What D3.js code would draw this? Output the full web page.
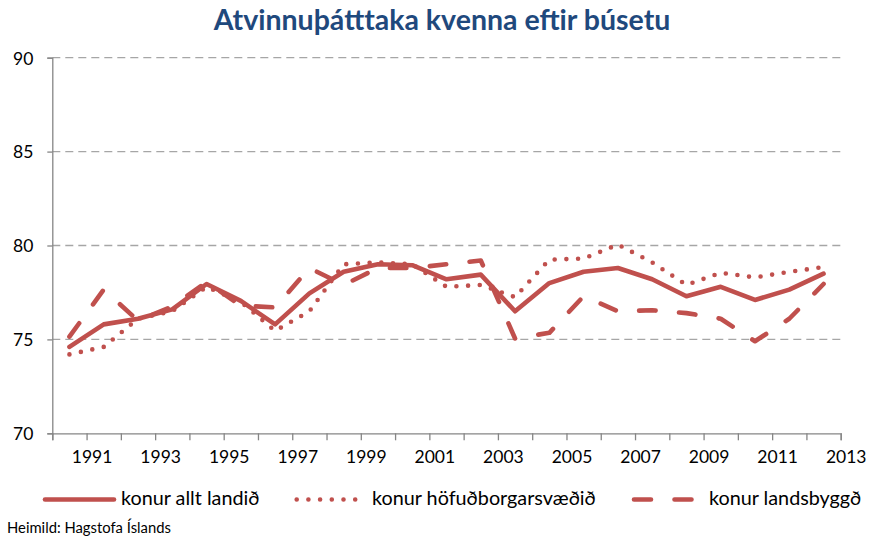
<!DOCTYPE html>
<html>
<head>
<meta charset="utf-8">
<script src="https://cdn.jsdelivr.net/npm/d3@7"></script>
<style>
  html, body { margin: 0; padding: 0; background: #fff; }
  svg { display: block; font-family: Lato, "Open Sans", sans-serif; }
</style>
</head>
<body>
<div id="chart"></div>
<script>
// values (atvinnuþátttaka kvenna, %)
var years = [1991, 1992, 1993, 1994, 1995, 1996, 1997, 1998, 1999, 2000, 2001, 2002,
             2003, 2004, 2005, 2006, 2007, 2008, 2009, 2010, 2011, 2012, 2013];
var tickLabels = [1991, 1993, 1995, 1997, 1999, 2001, 2003, 2005, 2007, 2009, 2011, 2013];
var yTicks = [70, 75, 80, 85, 90];

var alltLandid = [74.6, 75.8, 76.1, 76.6, 77.95, 77.05, 75.8, 77.45, 78.6, 79.0, 78.95, 78.2,
                  78.45, 76.5, 78.0, 78.6, 78.8, 78.2, 77.3, 77.8, 77.1, 77.65, 78.5];
var hofudborg = [74.2, 74.6, 76.1, 76.5, 77.8, 77.0, 75.45, 76.5, 79.0, 79.1, 79.0, 77.8,
                 77.9, 77.25, 79.25, 79.3, 80.05, 79.1, 77.9, 78.55, 78.3, 78.6, 78.85];
var landsbyggd = [75.15, 77.65, 76.0, 76.75, 78.05, 76.8, 76.7, 78.8, 77.9, 78.8, 78.8, 79.0,
                  79.2, 75.05, 75.35, 77.3, 76.5, 76.55, 76.4, 76.1, 74.9, 76.1, 77.95];

var seriesNames = ['konur allt landið', 'konur höfuðborgarsvæðið', 'konur landsbyggð'];
var title = 'Atvinnuþátttaka kvenna eftir búsetu';
var source = 'Heimild: Hagstofa Íslands';

(function() {
  var W = 869, H = 539,
    red = '#c0504d', axisGrey = '#868686', gridGrey = '#a6a6a6',
    left = 52.3, right = 840.7, top = 57.7, bottom = 433.3,
    svg, x, y, line, series, legend;

  svg = d3.select('#chart').append('svg').attr('width', W).attr('height', H);

  // boundaries between categories fall on whole years, points sit mid-category
  x = d3.scaleLinear().domain([1990, 2013]).range([left, right]);
  y = d3.scaleLinear().domain([70, 90]).range([bottom, top]);

  svg.append('text')
    .attr('x', 442).attr('y', 30)
    .attr('text-anchor', 'middle')
    .attr('font-size', 28.5).attr('font-weight', 'bold')
    .attr('fill', '#1f497d')
    .text(title);

  // gridlines
  svg.append('g')
    .selectAll('line')
    .data(yTicks.filter(function(d) { return d > 70; }))
    .join('line')
    .attr('x1', left).attr('x2', right)
    .attr('y1', function(d) { return y(d); })
    .attr('y2', function(d) { return y(d); })
    .attr('stroke', gridGrey).attr('stroke-width', 1.3)
    .attr('stroke-dasharray', '8,5');

  // y axis
  var yAxis = svg.append('g')
    .attr('transform', 'translate(' + left + ',0)')
    .call(d3.axisLeft(y).tickValues(yTicks).tickSize(5).tickPadding(14).tickFormat(d3.format('d')));
  yAxis.select('.domain').attr('stroke', axisGrey).attr('stroke-width', 1.3);
  yAxis.selectAll('.tick line').attr('stroke', axisGrey).attr('stroke-width', 1.3);
  yAxis.selectAll('.tick text')
    .attr('font-family', 'Lato, sans-serif').attr('font-size', 17.5).attr('fill', '#000')
    .attr('dy', '0.36em');

  // x axis: a tick at every year boundary, labels on odd years
  var xAxis = svg.append('g')
    .attr('transform', 'translate(0,' + bottom + ')')
    .call(d3.axisBottom(x).tickValues(d3.range(1990, 2014)).tickSize(7).tickPadding(10)
      .tickFormat(function(d) { return tickLabels.indexOf(d) >= 0 ? d : ''; }));
  xAxis.select('.domain').attr('stroke', axisGrey).attr('stroke-width', 1.3);
  xAxis.selectAll('.tick line').attr('stroke', axisGrey).attr('stroke-width', 1.3);
  xAxis.selectAll('.tick text')
    .attr('font-family', 'Lato, sans-serif').attr('font-size', 17.5).attr('fill', '#000')
    .attr('dx', 5);

  line = d3.line()
    .x(function(d, i) { return x(years[i] - 0.5); })
    .y(function(d) { return y(d); });

  series = [
    { name: seriesNames[0], values: alltLandid, dash: null, legendDash: null },
    { name: seriesNames[1], values: hofudborg, dash: '0,11.7', legendDash: '0,11.7' },
    { name: seriesNames[2], values: landsbyggd, dash: '16.5,23.5', legendDash: '17,23.5' }
  ];

  svg.append('g')
    .selectAll('path')
    .data(series)
    .join('path')
    .attr('d', function(d) { return line(d.values); })
    .attr('fill', 'none')
    .attr('stroke', red)
    .attr('stroke-width', 4.6)
    .attr('stroke-linejoin', 'round')
    .attr('stroke-linecap', 'round')
    .attr('stroke-dasharray', function(d) { return d.dash; });

  // legend
  var legendPos = [
    { x1: 45, x2: 114, tx: 121 },
    { x1: 296.7, x2: 356, tx: 372 },
    { x1: 634, x2: 692, tx: 709 }
  ];
  legend = svg.append('g').selectAll('g').data(series).join('g');
  legend.append('line')
    .attr('x1', function(d, i) { return legendPos[i].x1; })
    .attr('x2', function(d, i) { return legendPos[i].x2; })
    .attr('y1', 499.5).attr('y2', 499.5)
    .attr('stroke', red).attr('stroke-width', 4.6)
    .attr('stroke-linecap', 'round')
    .attr('stroke-dasharray', function(d) { return d.legendDash; });
  legend.append('text')
    .attr('x', function(d, i) { return legendPos[i].tx; })
    .attr('y', 505)
    .attr('font-size', 19.8).attr('fill', '#000')
    .text(function(d) { return d.name; });

  svg.append('text')
    .attr('x', 7).attr('y', 533)
    .attr('font-size', 14.8).attr('fill', '#000')
    .text(source);
}).call(this);
</script>
</body>
</html>
